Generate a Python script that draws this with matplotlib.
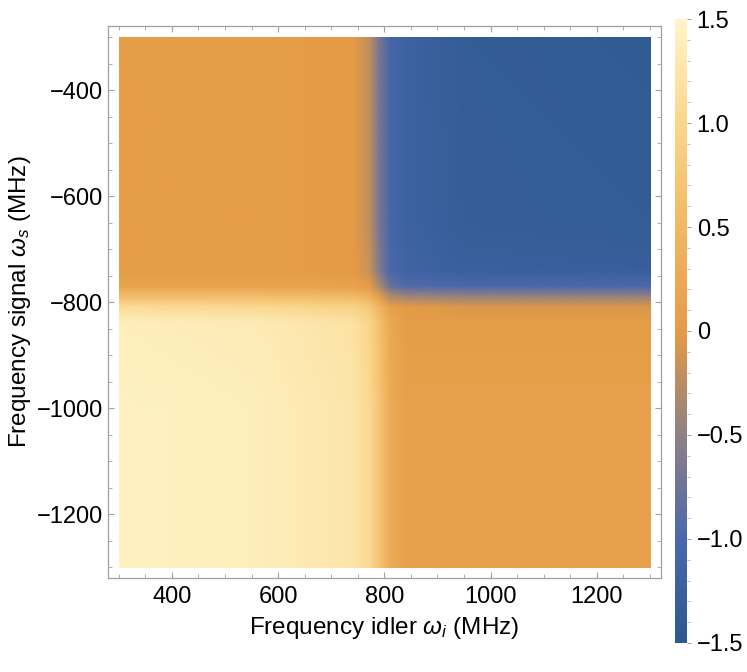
import numpy as np
import matplotlib
matplotlib.use('Agg')
import matplotlib.pyplot as plt
from matplotlib.colors import LinearSegmentedColormap, Normalize
from matplotlib.image import NonUniformImage
from matplotlib.patches import Rectangle
from matplotlib.ticker import MultipleLocator

plt.rcParams['font.family'] = ['Liberation Sans', 'DejaVu Sans']
plt.rcParams['mathtext.fontset'] = 'custom'
plt.rcParams['mathtext.rm'] = 'Liberation Sans'
plt.rcParams['mathtext.it'] = 'Liberation Sans:italic'

# sample positions (MHz)
idler_freq = [300, 550, 740, 770, 790, 810, 840, 950, 1300]
signal_freq = [-1300, -1000, -840, -810, -790, -770, -740, -650, -300]

# values at (signal row, idler column), bottom row first
values = [
    [1.45, 1.40, 1.25, 1.05, 0.70, 0.30, 0.10, 0.10, 0.10],
    [1.45, 1.40, 1.25, 1.05, 0.70, 0.30, 0.10, 0.10, 0.10],
    [1.40, 1.35, 1.20, 1.00, 0.65, 0.25, 0.05, 0.05, 0.05],
    [1.10, 1.05, 0.95, 0.80, 0.45, 0.10, 0.00, -0.05, -0.05],
    [0.60, 0.60, 0.55, 0.40, 0.05, -0.30, -0.40, -0.45, -0.45],
    [0.15, 0.15, 0.12, 0.00, -0.35, -0.80, -0.95, -1.00, -1.00],
    [0.05, 0.05, 0.00, -0.15, -0.60, -1.00, -1.15, -1.25, -1.28],
    [0.05, 0.05, 0.00, -0.20, -0.70, -1.05, -1.20, -1.33, -1.37],
    [0.05, 0.05, 0.00, -0.20, -0.70, -1.05, -1.20, -1.35, -1.40],
]

cbar_ticks = [-1.5, -1.0, -0.5, 0, 0.5, 1.0, 1.5]
cbar_labels = ['\u22121.5', '\u22121.0', '\u22120.5', '0', '0.5', '1.0', '1.5']

# blue - grey - orange - cream gradient
cmap = LinearSegmentedColormap.from_list('density', [
    (0.0, '#2b5a8e'),
    (1/6, '#4b68ad'),
    (1/3, '#8e8084'),
    (0.5, '#e59b45'),
    (2/3, '#f2b763'),
    (5/6, '#fad68b'),
    (1.0, '#fff4c8'),
])
norm = Normalize(vmin=-1.5, vmax=1.5)

fig = plt.figure(figsize=(7.47, 6.72), dpi=100)
ax = fig.add_axes([0.144, 0.140, 0.741, 0.821])

im = NonUniformImage(ax, interpolation='bilinear', extent=(300, 1300, -1300, -300),
                     cmap=cmap, norm=norm)
im.set_data(np.array(idler_freq, float), np.array(signal_freq, float), np.array(values))
ax.add_image(im)
# keep the density inside the plotted range, white padding around it
clip = Rectangle((300, -1300), 1000, 1000, transform=ax.transData, fill=False, visible=False)
ax.add_patch(clip)
im.set_clip_path(clip)

ax.set_xlim(279, 1321)
ax.set_ylim(-1320, -279)

frame_col = '#a0a0a0'
for s in ax.spines.values():
    s.set_color(frame_col)
    s.set_linewidth(0.9)

ax.xaxis.set_major_locator(MultipleLocator(200))
ax.xaxis.set_minor_locator(MultipleLocator(50))
ax.yaxis.set_major_locator(MultipleLocator(200))
ax.yaxis.set_minor_locator(MultipleLocator(50))
ax.tick_params(which='both', direction='in', top=True, right=True, color=frame_col,
               labelsize=17)
ax.tick_params(which='major', length=4.5, width=0.8)
ax.tick_params(axis='x', which='major', pad=6)
ax.tick_params(axis='y', which='major', pad=3)
ax.tick_params(which='minor', length=2.7, width=0.6)

ax.set_xlabel(r'Frequency idler $\omega_i$ (MHz)', fontsize=17.5, labelpad=5)
ax.set_ylabel(r'Frequency signal $\omega_s$ (MHz)', fontsize=17.5, labelpad=3)

cax = fig.add_axes([0.9036, 0.0432, 0.0161, 0.9285])
cb = fig.colorbar(im, cax=cax)
cb.outline.set_visible(False)
cb.set_ticks(cbar_ticks)
cb.set_ticklabels(cbar_labels)
cb.ax.yaxis.set_minor_locator(MultipleLocator(0.1))
cb.ax.tick_params(which='both', direction='out', color=frame_col, labelsize=17)
cb.ax.tick_params(which='major', length=3, width=0.8, pad=4)
cb.ax.tick_params(which='minor', length=2, width=0.5)

fig.savefig('out.png', dpi=100)
